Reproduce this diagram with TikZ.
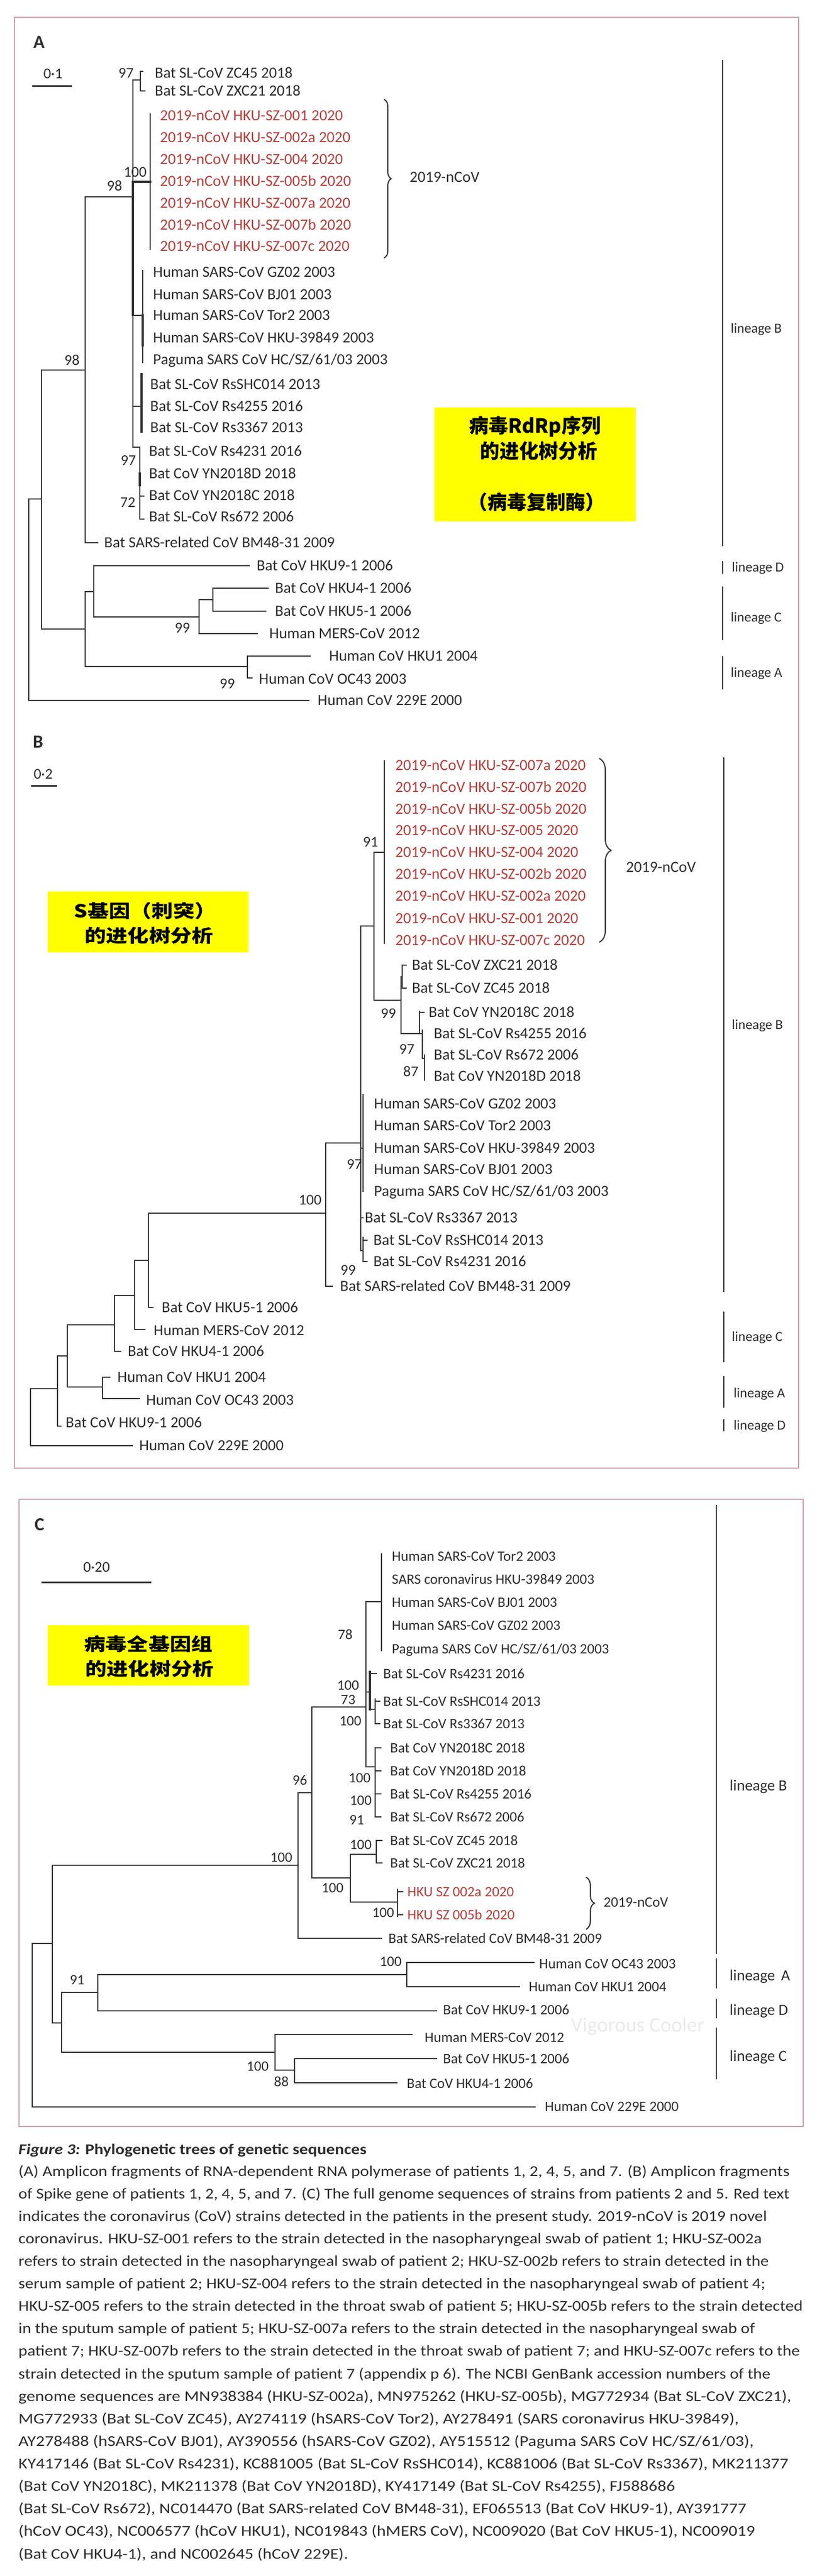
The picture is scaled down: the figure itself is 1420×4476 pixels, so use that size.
\documentclass[tikz,border=0pt]{standalone}
\usepackage{graphicx}
\usepackage{fontspec}
\setmainfont{Carlito}
\newfontfamily\cjk{Noto Sans CJK SC}
\usetikzlibrary{decorations.pathreplacing}
\definecolor{tx}{RGB}{45,45,45}
\definecolor{ln}{RGB}{55,55,55}
\definecolor{rd}{RGB}{183,62,58}
\definecolor{fr}{RGB}{205,160,172}
\definecolor{yel}{RGB}{255,255,0}
\newcommand\hb[3]{\draw[br] (#1,#3) -- (#2,#3);}
\newcommand\vb[3]{\draw[br] (#1,#2) -- (#1,#3);}
\newcommand\tvb[3]{\draw[br,line width=4.5pt] (#1,#2) -- (#1,#3);}
\newcommand\La[4]{\node[lb] (#1) at (#2,#3) {#4};}
\newcommand\Lr[4]{\node[lb,text=rd] (#1) at (#2,#3) {#4};}
\newcommand\Lc[4]{\node[lc] (#1) at (#2,#3) {#4};}
\newcommand\Lcr[4]{\node[lc,text=rd] (#1) at (#2,#3) {#4};}
\newcommand\bs[4]{\node[bsn] (#1) at (#2,#3) {#4};}
\newcommand\bsC[4]{\node[bsc] (#1) at (#2,#3) {#4};}
\newcommand\capl[4]{\node[anchor=base west, inner sep=0pt, text=tx] (#1) at (32,#2) {\resizebox*{#3pt}{31pt}{\fontsize{26}{31}\selectfont\strut #4}};}
\tikzset{
 br/.style={line width=2.4pt, draw=ln, line cap=rect},
 lb/.style={anchor=base west, inner sep=0pt, yshift=-8.5pt, text=tx, font=\fontsize{27}{30}\selectfont},
 lc/.style={anchor=base west, inner sep=0pt, yshift=-8pt, text=tx, font=\fontsize{25}{28}\selectfont},
 bsn/.style={anchor=base, inner sep=0pt, yshift=-8.5pt, text=tx, font=\fontsize{26}{30}\selectfont},
 bsc/.style={anchor=base, inner sep=0pt, yshift=-8pt, text=tx, font=\fontsize{25}{28}\selectfont},
 lin/.style={anchor=base west, inner sep=0pt, yshift=-8pt, text=tx, font=\fontsize{24}{28}\selectfont},
 linc/.style={anchor=base west, inner sep=0pt, yshift=-9pt, text=tx, font=\fontsize{27}{30}\selectfont},
 bar/.style={line width=2.8pt, draw=ln},
 panelframe/.style={draw=fr, line width=1.6pt},
 ybox/.style={fill=yel, draw=none},
 cjkA/.style={anchor=base, inner sep=0pt, font=\cjk\bfseries\fontsize{34}{40}\selectfont, text=black},
 cjkB/.style={anchor=base, inner sep=0pt, font=\cjk\bfseries\fontsize{31}{36}\selectfont, text=black},
 pl/.style={anchor=base west, inner sep=0pt, font=\bfseries\fontsize{32}{36}\selectfont, text=tx},
 sclab/.style={anchor=base, inner sep=0pt, text=tx, font=\fontsize{26}{30}\selectfont},
 brc/.style={decorate, decoration={brace, amplitude=#1}, line width=2pt, draw=ln, line cap=round},
}
\begin{document}
\begin{tikzpicture}[x=1pt,y=-1pt]
\fill[white] (0,0) rectangle (1420,4476);
\useasboundingbox (0,0) rectangle (1420,4476);

% ---------- frames ----------
\draw[panelframe] (25,30) rectangle (1388,2551);
\draw[panelframe] (33,2605) rectangle (1396,3695);

% ================= PANEL A =================
\node[pl] (pA) at (58,83) {A};
\node[sclab] (sA) at (92,136) {0·1};
\draw[line width=3pt, draw=ln] (56,149) -- (125,149);

% branches
\vb{50}{867}{1217}
\hb{50}{72}{867}
\hb{50}{537}{1217}
\vb{72}{643}{1093}
\hb{72}{148}{643}
\hb{72}{148}{1093}
\vb{148}{342}{943}
\hb{148}{228}{342}
\hb{148}{170}{943}
\vb{231}{139}{777}
\tvb{231}{316}{547}
\hb{231}{244}{139}
\vb{244}{124}{158}
\hb{244}{252}{158}
\hb{244}{248}{124}
\draw[br,line width=4pt] (231,316) -- (261,316);
\draw[br,line width=1.8pt] (261,198) -- (261,433);
\hb{231}{248}{548}
\vb{248}{470}{630}
\tvb{248}{548}{600}
\hb{231}{246}{706}
\tvb{246}{650}{750}
\hb{231}{243}{777}
\vb{243}{777}{902}
\hb{243}{250}{862}
\hb{243}{250}{902}
\tvb{243}{823}{843}
\vb{148}{1028}{1158}
\hb{148}{163}{1028}
\hb{148}{430}{1158}
\vb{163}{983}{1072}
\hb{163}{433}{983}
\hb{163}{346}{1072}
\vb{346}{1042}{1101}
\hb{346}{370}{1042}
\hb{346}{447}{1101}
\vb{370}{1022}{1062}
\hb{370}{466}{1022}
\hb{370}{462}{1062}
\vb{430}{1140}{1178}
\hb{430}{539}{1140}
\hb{430}{438}{1178}

% labels
\La{aZC}{269}{127}{Bat SL-CoV ZC45 2018}
\La{aZX}{269}{158}{Bat SL-CoV ZXC21 2018}
\Lr{a01}{278}{201}{2019-nCoV HKU-SZ-001 2020}
\Lr{a2a}{278}{239}{2019-nCoV HKU-SZ-002a 2020}
\Lr{a04}{278}{277}{2019-nCoV HKU-SZ-004 2020}
\Lr{a5b}{278}{315}{2019-nCoV HKU-SZ-005b 2020}
\Lr{a7a}{278}{353}{2019-nCoV HKU-SZ-007a 2020}
\Lr{a7b}{278}{391}{2019-nCoV HKU-SZ-007b 2020}
\Lr{a7c}{278}{428}{2019-nCoV HKU-SZ-007c 2020}
\La{aGZ}{266}{473}{Human SARS-CoV GZ02 2003}
\La{aBJ}{266}{512}{Human SARS-CoV BJ01 2003}
\La{aTo}{266}{548}{Human SARS-CoV Tor2 2003}
\La{aHK}{266}{587}{Human SARS-CoV HKU-39849 2003}
\La{aPa}{266}{625}{Paguma SARS CoV HC/SZ/61/03 2003}
\La{aSH}{261}{668}{Bat SL-CoV RsSHC014 2013}
\La{a55}{261}{706}{Bat SL-CoV Rs4255 2016}
\La{a67}{261}{743}{Bat SL-CoV Rs3367 2013}
\La{a31}{259}{784}{Bat SL-CoV Rs4231 2016}
\La{aYD}{259}{823}{Bat CoV YN2018D 2018}
\La{aYC}{259}{861}{Bat CoV YN2018C 2018}
\La{a72}{259}{898}{Bat SL-CoV Rs672 2006}
\La{aBM}{181}{943}{Bat SARS-related CoV BM48-31 2009}
\La{aH9}{446}{983}{Bat CoV HKU9-1 2006}
\La{aH4}{478}{1022}{Bat CoV HKU4-1 2006}
\La{aH5}{478}{1062}{Bat CoV HKU5-1 2006}
\La{aME}{468}{1101}{Human MERS-CoV 2012}
\La{aH1}{572}{1140}{Human CoV HKU1 2004}
\La{aOC}{450}{1180}{Human CoV OC43 2003}
\La{a2E}{552}{1217}{Human CoV 229E 2000}
% bootstrap
\bs{ab1}{219}{127}{97}
\bs{ab2}{235}{299}{100}
\bs{ab3}{199}{323}{98}
\bs{ab4}{125}{626}{98}
\bs{ab5}{223}{800}{97}
\bs{ab6}{222}{873}{72}
\bs{ab7}{317}{1091}{99}
\bs{ab8}{395}{1188}{99}
% brace
\draw[brc=12pt] (668,173) -- (668,448);
\node[lb] (aNC) at (712,308) {2019-nCoV};
% lineages
\draw[bar] (1256,104) -- (1256,949);
\draw[bar] (1256,975) -- (1256,997);
\draw[bar] (1256,1019) -- (1256,1112);
\draw[bar] (1256,1140) -- (1256,1198);
\node[lin] (aLB) at (1270,570) {lineage B};
\node[lin] (aLD) at (1272,985) {lineage D};
\node[lin] (aLC) at (1270,1072) {lineage C};
\node[lin] (aLA) at (1270,1168) {lineage A};
% yellow box
\fill[ybox] (755,708) rectangle (1105,906);
\node[cjkA] (ya1) at (930,752) {病毒RdRp序列};
\node[cjkA] (ya2) at (936,796) {的进化树分析};
\node[cjkA] (ya3) at (932,885) {（病毒复制酶）};

% ================= PANEL B =================
\node[pl] (pB) at (57,1299) {B};
\node[sclab] (sB) at (75,1353) {0·2};
\draw[line width=3pt, draw=ln] (54,1365) -- (99,1365);

\vb{53}{2413}{2512}
\hb{53}{100}{2413}
\hb{53}{230}{2512}
\vb{100}{2356}{2478}
\hb{100}{117}{2356}
\hb{100}{106}{2478}
\vb{117}{2302}{2410}
\hb{117}{199}{2302}
\hb{117}{178}{2410}
\vb{178}{2393}{2430}
\hb{178}{191}{2393}
\hb{178}{242}{2430}
\vb{199}{2251}{2348}
\hb{199}{234}{2251}
\hb{199}{210}{2348}
\vb{234}{2190}{2310}
\hb{234}{258}{2190}
\hb{234}{252}{2310}
\vb{258}{2108}{2272}
\hb{258}{566}{2108}
\hb{258}{266}{2272}
\vb{566}{1986}{2235}
\hb{566}{627}{1986}
\hb{566}{578}{2235}
\vb{627}{1609}{2173}
\hb{627}{650}{1609}
\hb{627}{631}{1995}
\hb{627}{631}{2116}
\hb{627}{631}{2173}
\vb{650}{1481}{1738}
\hb{650}{668}{1481}
\hb{650}{697}{1738}
\draw[br,line width=1.8pt] (668,1322) -- (668,1639);
\vb{697}{1697}{1796}
\hb{697}{729}{1796}
\vb{699}{1677}{1717}
\hb{699}{706}{1677}
\hb{699}{706}{1717}
\vb{729}{1757}{1796}
\hb{729}{737}{1759}
\hb{729}{734}{1796}
\vb{734}{1790}{1839}
\hb{734}{738}{1839}
\vb{738}{1833}{1877}
\draw[br,line width=1.8pt] (631,1902) -- (631,2070);
\vb{631}{2150}{2192}
\hb{631}{638}{2155}
\hb{631}{638}{2192}

\Lr{b7a}{687}{1330}{2019-nCoV HKU-SZ-007a 2020}
\Lr{b7b}{687}{1368}{2019-nCoV HKU-SZ-007b 2020}
\Lr{b5b}{687}{1406}{2019-nCoV HKU-SZ-005b 2020}
\Lr{b05}{687}{1443}{2019-nCoV HKU-SZ-005 2020}
\Lr{b04}{687}{1481}{2019-nCoV HKU-SZ-004 2020}
\Lr{b2b}{687}{1519}{2019-nCoV HKU-SZ-002b 2020}
\Lr{b2a}{687}{1557}{2019-nCoV HKU-SZ-002a 2020}
\Lr{b01}{687}{1596}{2019-nCoV HKU-SZ-001 2020}
\Lr{b7c}{687}{1634}{2019-nCoV HKU-SZ-007c 2020}
\La{bZX}{716}{1677}{Bat SL-CoV ZXC21 2018}
\La{bZC}{716}{1717}{Bat SL-CoV ZC45 2018}
\La{bYC}{745}{1759}{Bat CoV YN2018C 2018}
\La{b55}{754}{1796}{Bat SL-CoV Rs4255 2016}
\La{b72}{754}{1833}{Bat SL-CoV Rs672 2006}
\La{bYD}{754}{1870}{Bat CoV YN2018D 2018}
\La{bGZ}{650}{1918}{Human SARS-CoV GZ02 2003}
\La{bTo}{650}{1956}{Human SARS-CoV Tor2 2003}
\La{bHK}{650}{1995}{Human SARS-CoV HKU-39849 2003}
\La{bBJ}{650}{2032}{Human SARS-CoV BJ01 2003}
\La{bPa}{650}{2070}{Paguma SARS CoV HC/SZ/61/03 2003}
\La{b67}{634}{2116}{Bat SL-CoV Rs3367 2013}
\La{bSH}{649}{2155}{Bat SL-CoV RsSHC014 2013}
\La{b31}{649}{2192}{Bat SL-CoV Rs4231 2016}
\La{bBM}{591}{2235}{Bat SARS-related CoV BM48-31 2009}
\La{bH5}{281}{2272}{Bat CoV HKU5-1 2006}
\La{bME}{267}{2312}{Human MERS-CoV 2012}
\La{bH4}{222}{2348}{Bat CoV HKU4-1 2006}
\La{bH1}{204}{2393}{Human CoV HKU1 2004}
\La{bOC}{254}{2433}{Human CoV OC43 2003}
\La{bH9}{114}{2472}{Bat CoV HKU9-1 2006}
\La{b2E}{242}{2512}{Human CoV 229E 2000}
\bs{bb1}{644}{1463}{91}
\bs{bb2}{675}{1761}{99}
\bs{bb3}{707}{1823}{97}
\bs{bb4}{714}{1862}{87}
\bs{bb5}{616}{2023}{97}
\bs{bb6}{539}{2085}{100}
\bs{bb7}{605}{2207}{99}
\draw[brc=20pt] (1042,1318) -- (1042,1637);
\node[lb] (bNC) at (1088,1507) {2019-nCoV};
\draw[bar] (1258,1316) -- (1258,2245);
\draw[bar] (1258,2279) -- (1258,2367);
\draw[bar] (1258,2391) -- (1258,2446);
\draw[bar] (1258,2466) -- (1258,2487);
\node[lin] (bLB) at (1272,1780) {lineage B};
\node[lin] (bLC) at (1272,2322) {lineage C};
\node[lin] (bLA) at (1275,2420) {lineage A};
\node[lin] (bLD) at (1275,2476) {lineage D};
\fill[ybox] (83,1549) rectangle (432,1655);
\node[cjkB] (yb1) at (252,1594) {\scalebox{1.2}[1]{S基因（刺突）}};
\node[cjkB] (yb2) at (259,1637) {\scalebox{1.2}[1]{的进化树分析}};

% ================= PANEL C =================
\node[pl] (pC) at (60,2659) {C};
\node[sclab] (sC) at (168,2731) {0·20};
\draw[line width=3pt, draw=ln] (72,2749) -- (263,2749);

\vb{56}{3377}{3661}
\hb{56}{91}{3377}
\hb{56}{930}{3661}
\vb{91}{3241}{3515}
\hb{91}{518}{3241}
\hb{91}{107}{3515}
\vb{107}{3462}{3566}
\hb{107}{170}{3462}
\hb{107}{478}{3566}
\vb{170}{3431}{3494}
\hb{170}{707}{3431}
\hb{170}{759}{3494}
\vb{707}{3410}{3452}
\hb{707}{928}{3410}
\hb{707}{903}{3452}
\vb{478}{3535}{3597}
\hb{478}{716}{3535}
\hb{478}{512}{3597}
\vb{512}{3577}{3619}
\hb{512}{759}{3577}
\hb{512}{690}{3619}
\vb{518}{3115}{3368}
\hb{518}{542}{3115}
\hb{518}{663}{3368}
\vb{542}{2966}{3263}
\hb{542}{636}{2966}
\hb{542}{609}{3263}
\vb{609}{3222}{3305}
\hb{609}{654}{3222}
\hb{609}{691}{3305}
\vb{691}{3283}{3330}
\hb{691}{700}{3287}
\hb{691}{700}{3327}
\vb{654}{3198}{3237}
\hb{654}{664}{3198}
\hb{654}{664}{3237}
\vb{636}{2783}{3070}
\hb{636}{663}{2783}
\draw[br,line width=1.8pt] (663,2700) -- (663,2868);
\hb{636}{643}{2940}
\tvb{643}{2905}{2970}
\hb{643}{654}{2908}
\hb{643}{652}{2970}
\vb{652}{2952}{2995}
\hb{652}{660}{2956}
\hb{652}{660}{2995}
\hb{636}{652}{3070}
\vb{652}{3037}{3157}
\hb{652}{662}{3037}
\hb{652}{662}{3077}
\hb{652}{662}{3117}
\hb{652}{662}{3157}

\Lc{cTo}{681}{2704}{Human SARS-CoV Tor2 2003}
\Lc{cHK}{681}{2744}{SARS coronavirus HKU-39849 2003}
\Lc{cBJ}{681}{2784}{Human SARS-CoV BJ01 2003}
\Lc{cGZ}{681}{2824}{Human SARS-CoV GZ02 2003}
\Lc{cPa}{681}{2865}{Paguma SARS CoV HC/SZ/61/03 2003}
\Lc{c31}{666}{2908}{Bat SL-CoV Rs4231 2016}
\Lc{cSH}{666}{2956}{Bat SL-CoV RsSHC014 2013}
\Lc{c67}{666}{2995}{Bat SL-CoV Rs3367 2013}
\Lc{cYC}{678}{3037}{Bat CoV YN2018C 2018}
\Lc{cYD}{678}{3077}{Bat CoV YN2018D 2018}
\Lc{c55}{678}{3117}{Bat SL-CoV Rs4255 2016}
\Lc{c72}{678}{3157}{Bat SL-CoV Rs672 2006}
\Lc{cZC}{678}{3198}{Bat SL-CoV ZC45 2018}
\Lc{cZX}{678}{3237}{Bat SL-CoV ZXC21 2018}
\Lcr{c2a}{708}{3287}{HKU SZ 002a 2020}
\Lcr{c5b}{708}{3327}{HKU SZ 005b 2020}
\Lc{cBM}{675}{3368}{Bat SARS-related CoV BM48-31 2009}
\Lc{cOC}{937}{3412}{Human CoV OC43 2003}
\Lc{cH1}{919}{3452}{Human CoV HKU1 2004}
\Lc{cH9}{770}{3492}{Bat CoV HKU9-1 2006}
\Lc{cME}{738}{3540}{Human MERS-CoV 2012}
\Lc{cH5}{770}{3577}{Bat CoV HKU5-1 2006}
\Lc{cH4}{707}{3620}{Bat CoV HKU4-1 2006}
\Lc{c2E}{947}{3660}{Human CoV 229E 2000}
\bsC{cb1}{600}{2840}{78}
\bsC{cb2}{605}{2928}{100}
\bsC{cb3}{605}{2953}{73}
\bsC{cb4}{609}{2990}{100}
\bsC{cb5}{625}{3089}{100}
\bsC{cb6}{627}{3128}{100}
\bsC{cb7}{620}{3162}{91}
\bsC{cb8}{627}{3205}{100}
\bsC{cb9}{521}{3093}{96}
\bsC{cb10}{578}{3280}{100}
\bsC{cb11}{666}{3323}{100}
\bsC{cb12}{489}{3227}{100}
\bsC{cb13}{679}{3408}{100}
\bsC{cb14}{134}{3440}{91}
\bsC{cb15}{448}{3590}{100}
\bsC{cb16}{489}{3617}{88}
\draw[brc=14pt] (1019,3262) -- (1019,3352);
\node[lc] (cNC) at (1049,3305) {2019-nCoV};
\draw[bar] (1245,2615) -- (1245,3395);
\draw[bar] (1245,3403) -- (1245,3455);
\draw[bar] (1245,3473) -- (1245,3507);
\draw[bar] (1245,3523) -- (1245,3613);
\node[linc] (cLB) at (1268,3102) {lineage B};
\node[linc] (cLA) at (1268,3432) {lineage\, A};
\node[linc] (cLD) at (1268,3492) {lineage D};
\node[linc] (cLC) at (1268,3572) {lineage C};
\node[anchor=base west, inner sep=0pt, text=black!8, font=\fontsize{36}{40}\selectfont] (wm) at (992,3530) {Vigorous Cooler};
\fill[ybox] (83,2824) rectangle (433,2929);
\node[cjkB] (yc1) at (258,2868) {\scalebox{1.2}[1]{病毒全基因组}};
\node[cjkB] (yc2) at (260,2911) {\scalebox{1.2}[1]{的进化树分析}};

% ================= CAPTION =================
\node[anchor=base west, inner sep=0pt, text=tx] (cap0) at (32,3743) {\resizebox*{605pt}{31pt}{\fontsize{26}{31}\selectfont\strut\bfseries\itshape Figure 3:\upshape{} Phylogenetic trees of genetic sequences}};
\capl{cap1}{3781}{1340}{(A) Amplicon fragments of RNA-dependent RNA polymerase of patients 1, 2, 4, 5, and 7. (B) Amplicon fragments}
\capl{cap2}{3820}{1340}{of Spike gene of patients 1, 2, 4, 5, and 7. (C) The full genome sequences of strains from patients 2 and 5. Red text}
\capl{cap3}{3859}{1301}{indicates the coronavirus (CoV) strains detected in the patients in the present study. 2019-nCoV is 2019 novel}
\capl{cap4}{3898}{1292}{coronavirus. HKU-SZ-001 refers to the strain detected in the nasopharyngeal swab of patient 1; HKU-SZ-002a}
\capl{cap5}{3937}{1304}{refers to strain detected in the nasopharyngeal swab of patient 2; HKU-SZ-002b refers to strain detected in the}
\capl{cap6}{3976}{1298}{serum sample of patient 2; HKU-SZ-004 refers to the strain detected in the nasopharyngeal swab of patient 4;}
\capl{cap7}{4015}{1363}{HKU-SZ-005 refers to the strain detected in the throat swab of patient 5; HKU-SZ-005b refers to the strain detected}
\capl{cap8}{4054}{1280}{in the sputum sample of patient 5; HKU-SZ-007a refers to the strain detected in the nasopharyngeal swab of}
\capl{cap9}{4093}{1358}{patient 7; HKU-SZ-007b refers to the strain detected in the throat swab of patient 7; and HKU-SZ-007c refers to the}
\capl{cap10}{4133}{1307}{strain detected in the sputum sample of patient 7 (appendix p 6). The NCBI GenBank accession numbers of the}
\capl{cap11}{4172}{1343}{genome sequences are MN938384 (HKU-SZ-002a), MN975262 (HKU-SZ-005b), MG772934 (Bat SL-CoV ZXC21),}
\capl{cap12}{4211}{1252}{MG772933 (Bat SL-CoV ZC45), AY274119 (hSARS-CoV Tor2), AY278491 (SARS coronavirus HKU-39849),}
\capl{cap13}{4250}{1278}{AY278488 (hSARS-CoV BJ01), AY390556 (hSARS-CoV GZ02), AY515512 (Paguma SARS CoV HC/SZ/61/03),}
\capl{cap14}{4289}{1338}{KY417146 (Bat SL-CoV Rs4231), KC881005 (Bat SL-CoV RsSHC014), KC881006 (Bat SL-CoV Rs3367), MK211377}
\capl{cap15}{4328}{1141}{(Bat CoV YN2018C), MK211378 (Bat CoV YN2018D), KY417149 (Bat SL-CoV Rs4255), FJ588686}
\capl{cap16}{4367}{1265}{(Bat SL-CoV Rs672), NC014470 (Bat SARS-related CoV BM48-31), EF065513 (Bat CoV HKU9-1), AY391777}
\capl{cap17}{4406}{1280}{(hCoV OC43), NC006577 (hCoV HKU1), NC019843 (hMERS CoV), NC009020 (Bat CoV HKU5-1), NC009019}
\capl{cap18}{4446}{573}{(Bat CoV HKU4-1), and NC002645 (hCoV 229E).}
\end{tikzpicture}
\end{document}
